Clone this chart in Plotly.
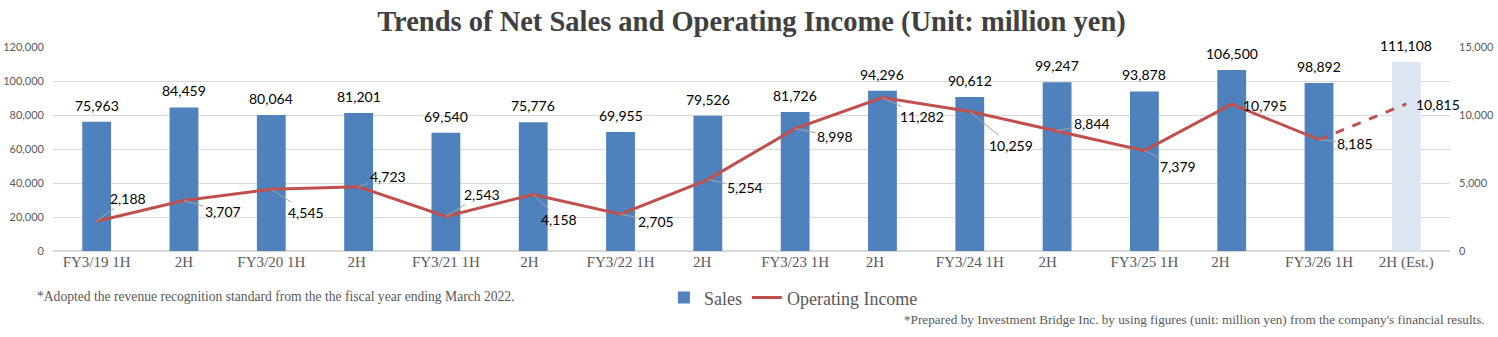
import plotly.graph_objects as go

categories = ["FY3/19 1H", "2H", "FY3/20 1H", "2H ", "FY3/21 1H", "2H  ", "FY3/22 1H", "2H   ",
              "FY3/23 1H", "2H    ", "FY3/24 1H", "2H     ", "FY3/25 1H", "2H      ", "FY3/26 1H", "2H (Est.)"]
sales = [75963, 84459, 80064, 81201, 69540, 75776, 69955, 79526,
         81726, 94296, 90612, 99247, 93878, 106500, 98892, 111108]
op_income = [2188, 3707, 4545, 4723, 2543, 4158, 2705, 5254,
             8998, 11282, 10259, 8844, 7379, 10795, 8185, 10815]
# label offsets (pixels) for operating income labels
oi_offsets = [(31, -23), (39, 11), (35, 23), (29, -10), (36, -22), (26, 25), (35, 7), (37, 8),
              (40, 8), (40, 19), (41, 34), (35, -7), (34, 16), (33, 1), (36, 4), (32, 1)]
leader = [True] * 13 + [False, True, False]

BLUE = "#4F81BD"
LIGHT = "#DCE6F2"
RED = "#C0504D"
GRAY = "#595959"
SANS = "Lato"
SERIF = "Liberation Serif"

bar_colors = [BLUE] * (len(sales) - 1) + [LIGHT]

fig = go.Figure()
fig.add_trace(go.Bar(x=categories, y=sales, name="Sales", marker=dict(color=bar_colors, line=dict(width=0)),
                     yaxis="y"))
fig.add_trace(go.Scatter(x=categories[:-1], y=op_income[:-1], name="Operating Income", mode="lines",
                         line=dict(color=RED, width=3), yaxis="y2"))
fig.add_trace(go.Scatter(x=categories[-2:], y=op_income[-2:], name="Operating Income (Est.)", mode="lines",
                         line=dict(color=RED, width=3, dash="dash"), yaxis="y2", showlegend=False))

annotations = []
for c, v in zip(categories, sales):
    annotations.append(dict(x=c, y=v, xref="x", yref="y", text=f"{v:,}", showarrow=False,
                            yanchor="bottom", yshift=6, font=dict(family=SANS, size=14, color="#000000")))
for c, v, (ax, ay), ld in zip(categories, op_income, oi_offsets, leader):
    if ld:
        annotations.append(dict(x=c, y=v, xref="x", yref="y2", text=f"{v:,}", showarrow=True,
                                ax=ax, ay=ay, arrowhead=0, arrowwidth=1, arrowcolor="#A6A6A6", standoff=0,
                                font=dict(family=SANS, size=14, color="#000000")))
    else:
        annotations.append(dict(x=c, y=v, xref="x", yref="y2", text=f"{v:,}", showarrow=False,
                                xshift=ax, yshift=-ay,
                                font=dict(family=SANS, size=14, color="#000000")))

annotations.append(dict(x=-0.0129, y=-0.225, xref="paper", yref="paper", xanchor="left", yanchor="middle",
                        text="*Adopted the revenue recognition standard from the the fiscal year ending March 2022.",
                        showarrow=False, font=dict(family=SERIF, size=13.6, color=GRAY)))
annotations.append(dict(x=1.0265, y=-0.338, xref="paper", yref="paper", xanchor="right", yanchor="middle",
                        text="*Prepared by Investment Bridge Inc. by using figures (unit: million yen) from the company's financial results.",
                        showarrow=False, font=dict(family=SERIF, size=13.2, color=GRAY)))

fig.update_layout(
    width=1498, height=337,
    margin=dict(l=53, r=48, t=47, b=86, autoexpand=False),
    paper_bgcolor="white", plot_bgcolor="white",
    title=dict(text="<b>Trends of Net Sales and Operating Income (Unit: million yen)</b>",
               x=0.5, xanchor="center", xref="paper", y=1 - 21 / 337, yanchor="middle",
               font=dict(family=SERIF, size=28.5, color="#404040")),
    bargap=0.67,
    xaxis=dict(type="category", range=[-0.5, 15.5], autorange=False, showgrid=False, showline=False,
               ticks="", automargin=False,
               tickfont=dict(family=SERIF, size=15, color=GRAY)),
    yaxis=dict(range=[0, 120000], dtick=20000, tickformat=",d", showgrid=True, gridcolor="#D9D9D9",
               gridwidth=1, zeroline=True, zerolinecolor="#D9D9D9", showline=False, automargin=False,
               tickfont=dict(family=SANS, size=11, color=GRAY), ticklabelstandoff=8),
    yaxis2=dict(range=[0, 15000], dtick=5000, tickformat=",d", overlaying="y", side="right",
                showgrid=False, zeroline=False, showline=False, automargin=False,
                tickfont=dict(family=SANS, size=11, color=GRAY), ticklabelstandoff=8),
    legend=dict(orientation="h", x=0.53, y=-0.23, xanchor="center", yanchor="middle",
                font=dict(family=SERIF, size=18, color=GRAY), bgcolor="rgba(0,0,0,0)",
                itemwidth=30, tracegroupgap=0),
    annotations=annotations,
    showlegend=True,
)

fig.write_html("out.html")
